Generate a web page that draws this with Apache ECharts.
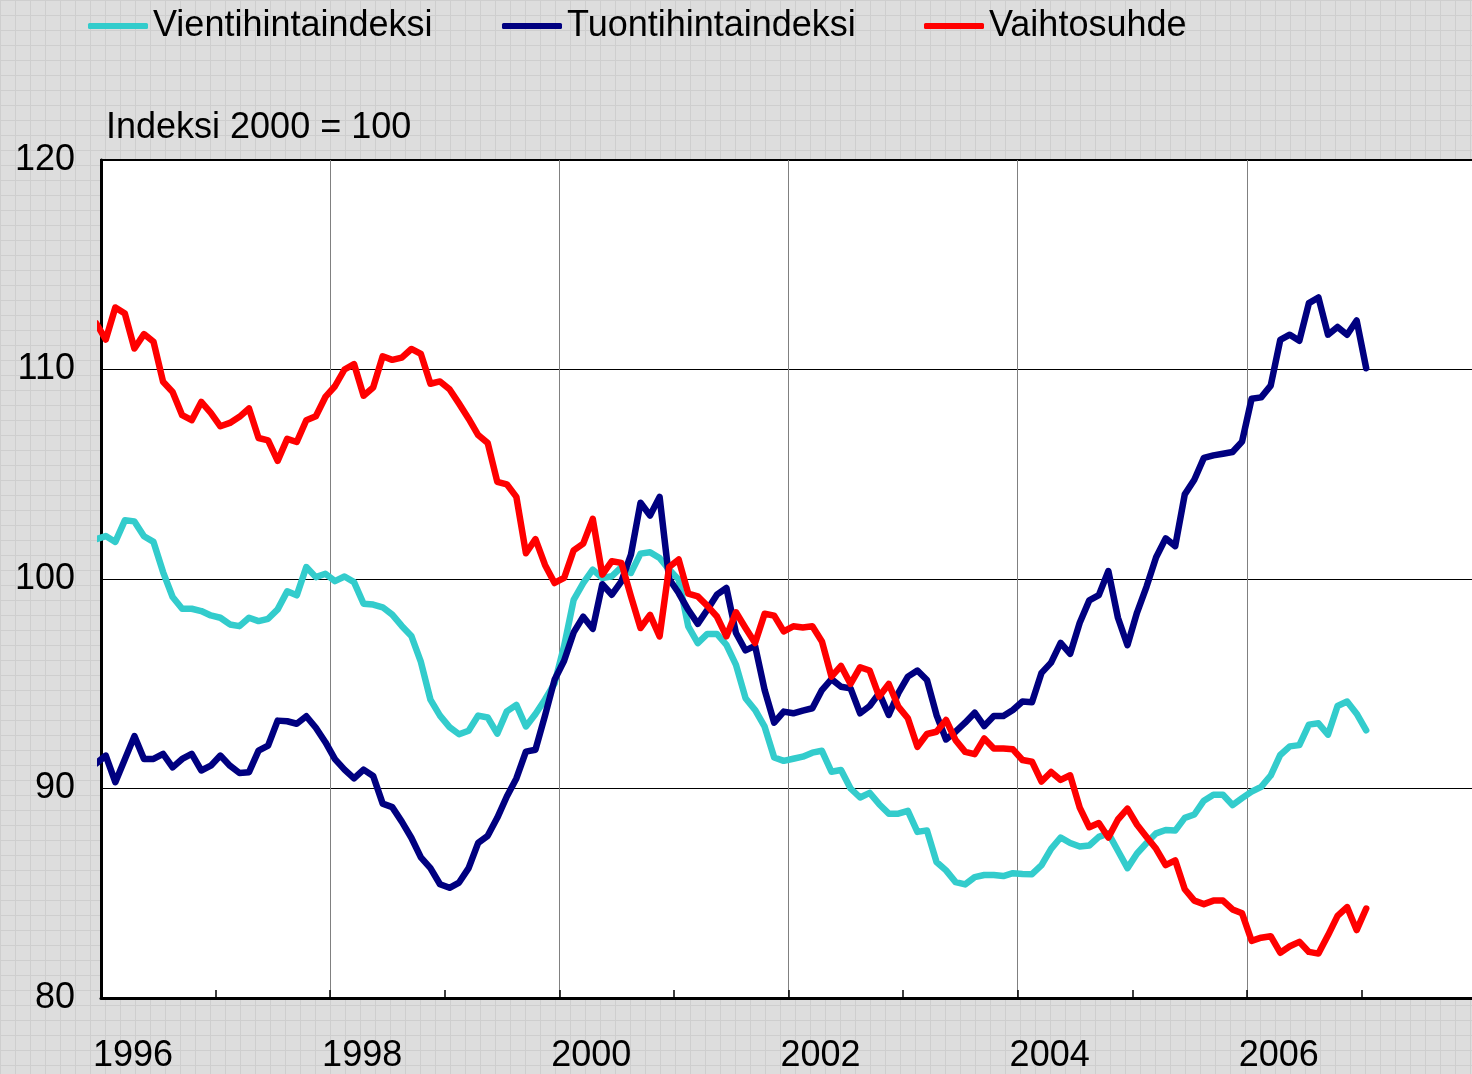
<html>
    <head>
        <meta charset="utf-8">
        <script src="https://cdn.jsdelivr.net/npm/echarts@6.0.0/dist/echarts.min.js"></script>
        <style>
            html, body {
                margin: 0;
                padding: 0;
            }
            body {
                background-color: #dddddd;
                background-image:
                    linear-gradient(to right, #cecece 1px, transparent 1px),
                    linear-gradient(to bottom, #cecece 1px, transparent 1px);
                background-size: 15px 15px;
            }
            #main {
                width: 1472px;
                height: 1074px;
            }
        </style>
    </head>
    <body>
        <div id="main"></div>
        <script>

        // monthly values, first entry = Dec 1995 (clipped at the axis), then Jan 1996 .. Jan 2007
        var vienti = [
            101.9,
            102.05, 101.77, 102.8, 102.75, 102.04, 101.77, 100.33, 99.14, 98.58, 98.58, 98.47, 98.26,
            98.15, 97.83, 97.75, 98.15, 97.99, 98.1, 98.55, 99.41, 99.22, 100.57, 100.09, 100.25,
            99.9, 100.12, 99.85, 98.82, 98.78, 98.65, 98.3, 97.76, 97.28, 96.04, 94.24, 93.48,
            92.93, 92.59, 92.76, 93.48, 93.39, 92.62, 93.68, 93.99, 92.96, 93.56, 94.25, 95.02,
            96.8, 99.0, 99.8, 100.45, 100.05, 100.13, 100.57, 100.29, 101.21, 101.28, 101.0, 100.45,
            99.97, 97.74, 96.94, 97.38, 97.38, 96.86, 95.9, 94.31, 93.75, 92.95, 91.48, 91.32,
            91.42, 91.52, 91.71, 91.8, 90.8, 90.88, 90.0, 89.57, 89.79, 89.25, 88.8, 88.8,
            88.93, 87.93, 88.0, 86.49, 86.09, 85.53, 85.42, 85.77, 85.87, 85.87, 85.82, 85.96,
            85.92, 85.91, 86.34, 87.12, 87.66, 87.4, 87.23, 87.28, 87.69, 87.86, 87.03, 86.2,
            86.9, 87.4, 87.86, 88.02, 87.99, 88.6, 88.76, 89.42, 89.7, 89.7, 89.21, 89.54,
            89.85, 90.08, 90.62, 91.6, 92.01, 92.07, 93.05, 93.11, 92.57, 93.94, 94.15, 93.57,
            92.78
        ];
        var tuonti = [
            91.2,
            91.57, 90.3, 91.4, 92.5, 91.41, 91.41, 91.65, 91.01, 91.41, 91.65, 90.86, 91.09,
            91.57, 91.09, 90.74, 90.78, 91.81, 92.05, 93.24, 93.21, 93.09, 93.45, 92.9, 92.21,
            91.4, 90.9, 90.48, 90.9, 90.6, 89.28, 89.11, 88.42, 87.65, 86.71, 86.2, 85.43,
            85.26, 85.51, 86.2, 87.4, 87.74, 88.6, 89.62, 90.48, 91.76, 91.85, 93.48, 95.19,
            96.1, 97.45, 98.2, 97.62, 99.75, 99.25, 99.89, 101.16, 103.64, 103.03, 103.92, 100.0,
            99.33, 98.53, 97.86, 98.53, 99.25, 99.57, 97.42, 96.59, 96.81, 94.7, 93.14, 93.67,
            93.59, 93.72, 93.83, 94.7, 95.22, 94.86, 94.78, 93.59, 93.94, 94.55, 93.51, 94.55,
            95.34, 95.63, 95.18, 93.51, 92.34, 92.71, 93.14, 93.62, 92.98, 93.46, 93.46, 93.75,
            94.15, 94.12, 95.52, 96.01, 96.95, 96.43, 97.91, 98.98, 99.23, 100.38, 98.15, 96.84,
            98.4, 99.64, 101.04, 101.94, 101.57, 104.04, 104.74, 105.78, 105.9, 105.98, 106.06, 106.56,
            108.6, 108.67, 109.23, 111.41, 111.66, 111.37, 113.17, 113.44, 111.66, 112.03, 111.66, 112.34,
            110.06
        ];
        var vaihto = [
            112.2,
            111.43, 112.96, 112.67, 111.0, 111.69, 111.32, 109.41, 108.93, 107.82, 107.58, 108.45, 107.93,
            107.29, 107.45, 107.74, 108.14, 106.73, 106.62, 105.64, 106.69, 106.54, 107.58, 107.77, 108.69,
            109.2, 110.0, 110.26, 108.75, 109.14, 110.63, 110.46, 110.57, 110.98, 110.74, 109.32, 109.43,
            109.06, 108.37, 107.65, 106.87, 106.49, 104.64, 104.52, 103.92, 101.23, 101.9, 100.67, 99.81,
            100.05, 101.37, 101.69, 102.87, 100.21, 100.85, 100.77, 99.17, 97.66, 98.29, 97.26, 100.57,
            100.93, 99.3, 99.17, 98.72, 98.21, 97.26, 98.41, 97.66, 96.94, 98.34, 98.25, 97.5,
            97.74, 97.69, 97.74, 97.02, 95.34, 95.85, 94.99, 95.79, 95.63, 94.39, 94.99, 93.91,
            93.35, 91.99, 92.6, 92.71, 93.27, 92.31, 91.75, 91.64, 92.39, 91.91, 91.91, 91.87,
            91.36, 91.28, 90.33, 90.79, 90.41, 90.63, 89.09, 88.15, 88.35, 87.66, 88.52, 89.04,
            88.27, 87.69, 87.12, 86.34, 86.57, 85.19, 84.65, 84.48, 84.65, 84.65, 84.23, 84.04,
            82.73, 82.88, 82.95, 82.16, 82.47, 82.68, 82.2, 82.12, 82.99, 83.92, 84.34, 83.24,
            84.27
        ];
        var yearLabels = ['1996', '1998', '2000', '2002', '2004', '2006'];
        var seriesNames = ['Vientihintaindeksi', 'Tuontihintaindeksi', 'Vaihtosuhde'];
        var seriesColors = ['#33cccc', '#000080', '#ff0000'];

        var FONT = '"Liberation Sans", Arial, sans-serif';

        // x in months from the start of 1996, points sit mid-month
        function toPoints(values) {
            return values.map(function (v, i) {
                return [i - 0.5, v];
            });
        }

        var myChart = echarts.init(document.getElementById('main'));

        var legendLeft = [88, 502, 924];

        option = {
            animation: false,
            title: {
                text: 'Indeksi 2000 = 100',
                left: 106,
                top: 110,
                padding: 0,
                textStyle: {
                    fontFamily: FONT,
                    fontSize: 36,
                    fontWeight: 'normal',
                    color: '#000'
                }
            },
            legend: seriesNames.map(function (name, i) {
                return {
                    data: [{ name: name, icon: 'roundRect' }],
                    left: legendLeft[i],
                    top: 8,
                    padding: 0,
                    itemWidth: 60,
                    itemHeight: 6,
                    selectedMode: false,
                    textStyle: {
                        fontFamily: FONT,
                        fontSize: 36,
                        color: '#000'
                    }
                };
            }),
            grid: {
                left: 101,
                top: 160,
                width: 1375,
                height: 838,
                outerBoundsMode: 'none',
                containLabel: false,
                show: true,
                backgroundColor: '#fff',
                borderColor: '#000',
                borderWidth: 2
            },
            xAxis: {
                type: 'value',
                min: 0,
                max: 144,
                interval: 24,
                axisLine: {
                    onZero: false,
                    lineStyle: { color: '#000', width: 3 }
                },
                axisTick: {
                    show: true,
                    inside: true,
                    length: 8,
                    lineStyle: { color: '#000', width: 1.5 }
                },
                minorTick: {
                    show: true,
                    splitNumber: 2,
                    length: 8,
                    lineStyle: { color: '#000', width: 1.5 }
                },
                splitLine: {
                    show: true,
                    lineStyle: { color: '#808080', width: 1 }
                },
                axisLabel: {
                    fontFamily: FONT,
                    fontSize: 36,
                    color: '#000',
                    margin: 40,
                    align: 'center',
                    padding: [0, 0, 0, 64],
                    formatter: function (v) {
                        return yearLabels[v / 24] || '';
                    }
                }
            },
            yAxis: {
                type: 'value',
                min: 80,
                max: 120,
                interval: 10,
                axisLine: {
                    show: true,
                    lineStyle: { color: '#000', width: 3 }
                },
                axisTick: { show: false },
                splitLine: {
                    lineStyle: { color: '#000', width: 1 }
                },
                axisLabel: {
                    fontFamily: FONT,
                    fontSize: 36,
                    color: '#000',
                    margin: 26
                }
            },
            series: [vienti, tuonti, vaihto].map(function (values, i) {
                return {
                    name: seriesNames[i],
                    type: 'line',
                    data: toPoints(values),
                    symbol: 'none',
                    showSymbol: false,
                    clip: true,
                    color: seriesColors[i],
                    lineStyle: {
                        color: seriesColors[i],
                        width: 6.5,
                        cap: 'round',
                        join: 'round'
                    }
                };
            })
        };

        myChart.setOption(option);

        </script>
    </body>
</html>
